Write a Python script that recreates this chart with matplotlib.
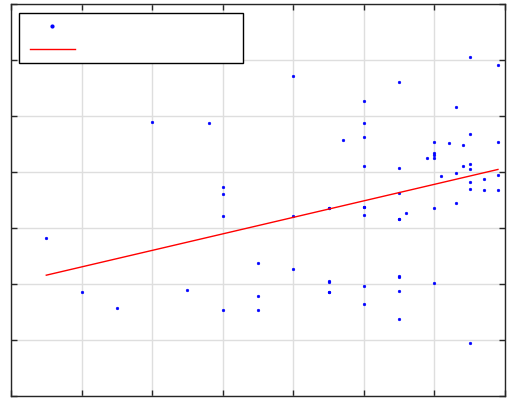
import matplotlib
matplotlib.use("Agg")
import matplotlib.pyplot as plt
import numpy as np
from matplotlib.lines import Line2D

# Observations
x_vals = [0.5, 1.0, 1.5, 2.0, 2.5, 2.8,
          3.0, 3.0, 3.0, 3.0, 3.5, 3.5, 3.5,
          4.0, 4.0, 4.0, 4.5, 4.5, 4.5, 4.5, 4.5, 4.5, 4.7,
          5.0, 5.0, 5.0, 5.0, 5.0, 5.0, 5.0, 5.0, 5.0,
          5.5, 5.5, 5.5, 5.5, 5.5, 5.5, 5.5, 5.5, 5.5, 5.6,
          5.9, 6.0, 6.0, 6.0, 6.0, 6.0, 6.0, 6.1, 6.2,
          6.3, 6.3, 6.3, 6.4, 6.4, 6.5, 6.5, 6.5, 6.5, 6.5, 6.5, 6.5,
          6.7, 6.7, 6.9, 6.9, 6.9, 6.9]
y_vals = [2.82, 1.86, 1.57, 4.90, 1.89, 4.88,
          3.74, 3.61, 3.22, 1.54, 2.37, 1.78, 1.54,
          5.71, 3.22, 2.27, 3.36, 2.04, 1.86, 2.05, 1.86, 3.36, 4.57,
          5.26, 4.88, 4.62, 4.10, 3.37, 3.23, 1.97, 1.65, 3.37,
          5.61, 4.07, 3.62, 3.16, 2.15, 2.13, 1.87, 1.38, 3.16, 3.27,
          4.25, 4.53, 4.34, 4.31, 4.25, 3.36, 2.02, 3.93, 4.51,
          5.16, 3.99, 3.44, 4.49, 4.11, 6.05, 4.68, 4.14, 4.05, 3.82, 3.69, 0.94,
          3.88, 3.67, 5.91, 4.54, 3.95, 3.67]

# Least-squares trend line: intercept and slope
fit_intercept = 2.01
fit_slope = 0.295

fig = plt.figure(figsize=(5.07, 3.98), dpi=100)
ax = fig.add_axes([11 / 507, 2 / 398, 494 / 507, 392 / 398])

ax.plot(x_vals, y_vals, linestyle="none", marker="o", markersize=2.0,
        markerfacecolor=(0, 0, 1), markeredgecolor=(0, 0, 1), markeredgewidth=0.3)

xf = np.array([min(x_vals), max(x_vals)])
ax.plot(xf, fit_intercept + fit_slope * xf, color=(1, 0, 0), linewidth=1.0)

ax.set_xlim(0, 7)
ax.set_ylim(0, 7)
ax.set_xticks(np.arange(0, 8))
ax.set_yticks(np.arange(0, 8))
ax.set_xticklabels([])
ax.set_yticklabels([])
ax.grid(True, color="#dedede", linewidth=1.0)
ax.set_axisbelow(True)
ax.tick_params(direction="in", length=4, width=1, color="#262626",
               top=True, right=True)
for s in ax.spines.values():
    s.set_color("#262626")
    s.set_linewidth(1.0)

handles = [
    Line2D([], [], linestyle="none", marker="o", markersize=2.0,
           markerfacecolor=(0, 0, 1), markeredgecolor=(0, 0, 1)),
    Line2D([], [], color=(1, 0, 0), linewidth=1.0),
]
leg = ax.legend(handles, [" ", " "], loc="upper left",
                bbox_to_anchor=(8 / 494, 334 / 392, 224 / 494, 49 / 392),
                mode="expand", borderaxespad=0, fontsize=4.4,
                handlelength=7.4, borderpad=1.75, labelspacing=3.0,
                handletextpad=0.8, fancybox=False, framealpha=1,
                edgecolor="black")
leg.get_frame().set_linewidth(1.0)

fig.savefig("out.png", dpi=100)
